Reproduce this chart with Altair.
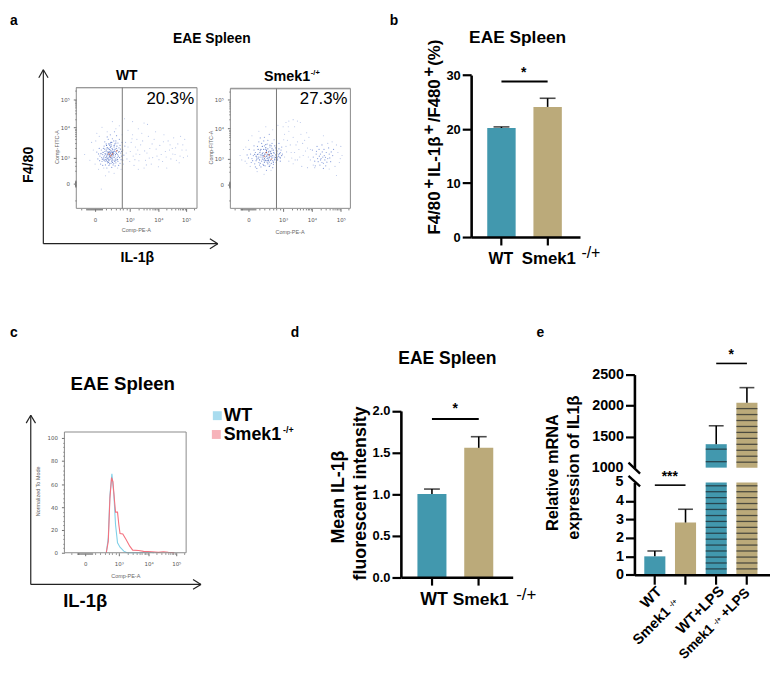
import altair as alt
import pandas as pd

W, H = 770, 659
FONT = "Liberation Sans"
TEAL, TAN = "#4298ae", "#bbaa7a"

# ---------- bar data ----------
cats2 = ["WT", "Smek1"]
b_vals = [20.2, 24.1]
b_errs = [20.4, 25.7]
d_vals = [1.0, 1.556]
d_errs = [1.06, 1.69]
cats4 = ["WT", "Smek", "WT+LPS", "Smek+LPS"]
e_vals = [1.0, 2.83, 1378, 2047]
e_errs = [1.29, 3.55, 1675, 2290]
e_low_stripes = [4.82, 4.5, 4.18, 3.86, 3.54, 3.21, 2.89, 2.57, 2.25, 1.93, 1.61, 1.29, 0.96, 0.64, 0.32]
e_up_stripes_wt = [1298, 1096]
e_up_stripes_smek = [1952, 1856, 1760, 1664, 1568, 1472, 1376, 1280, 1184, 1088]

# ---------- histogram data (c) ----------
wt_hist_x = [0.627, 0.686, 0.735, 0.794, 0.853, 0.902, 0.961, 1.04, 1.167, 1.277, 1.7, 2.0, 2.1, 2.2]
wt_hist_y = [0, 13, 50.7, 69, 50.7, 24.6, 8.7, 4.9, 1.4, 0, 0, 0.6, 0.2, 0]
ko_hist_x = [0.627, 0.686, 0.735, 0.784, 0.824, 0.873, 0.902, 0.961, 1.0, 1.04, 1.133, 1.244, 1.367, 1.467,
             1.667, 1.833, 2.12, 2.357, 2.536, 2.714, 2.93]
ko_hist_y = [0, 10, 47.8, 65.8, 62.3, 45, 35.7, 35.7, 24.6, 16.8, 16.5, 11.6, 5.8, 2.3, 2, 1.2, 0.9, 0.3, 0.9, 0.4, 0]

# ---------- flow cytometry events (a), read by eye ----------
wt_sparse = [(0.95,1.9),(1.1,2.2),(1.3,1.95),(1.5,2.15),(1.62,2.1),(1.05,1.5),(1.2,1.35),(1.35,1.1),(1.45,1.55),
 (1.55,0.9),(1.7,1.3),(1.85,1.6),(1.95,1.05),(2.05,1.4),(2.15,0.85),(2.25,1.2),(2.35,1.55),(2.45,0.95),(2.5,1.3),
 (2.6,1.1),(2.7,1.45),(2.75,0.8),(2.85,1.25),(2.95,1.6),(3.05,1.05),(1.0,0.85),(1.15,0.7),(1.3,0.55),(1.5,0.6),
 (1.75,0.75),(2.0,0.65),(2.3,0.6),(1.1,1.75),(1.25,1.6),(1.42,1.8),(1.65,1.7),(1.9,1.85),(2.2,1.75),(2.55,1.65),
 (2.8,1.7),(1.02,1.2),(1.12,1.05),(1.18,0.92),(1.28,1.25),(1.6,1.15),(1.8,1.0),(2.1,1.1),(2.4,1.25),(2.65,0.9),
 (2.9,1.0),(-0.3,1.1),(-0.15,0.9),(-0.1,1.5),(0.05,1.8),(0.2,2.0),(0.5,2.2),(0.7,2.05),(0.85,2.3),(0.3,0.3),
 (0.1,0.55),(0.55,0.4),(0.75,0.55),(0.18,-0.2),(-0.05,1.25),(0.0,0.75),(0.02,1.55),(0.12,1.7),(0.35,1.85),
 (0.6,1.95),(0.78,1.75),(0.88,1.5),(0.9,1.15),(0.92,0.95),(0.82,0.75),(0.4,0.45),(0.25,0.6),(0.65,0.6),(0.95,1.35),
 (1.08,1.62),(1.22,1.12),(1.38,1.42),(1.52,1.22),(1.68,0.98),(1.78,1.45),(1.92,1.28),(2.02,0.92),(2.18,1.52),
 (2.28,1.02),(2.42,1.42),(2.52,1.12),(2.62,1.32),(2.78,1.05),(2.88,1.42),(3.0,1.25),(1.32,0.88),(1.58,0.72)]
wt_core = [(0.46,1.1),(0.4,1.0),(0.52,1.2),(0.35,1.15),(0.58,1.05),(0.3,1.0),(0.44,1.25),(0.5,0.95),(0.38,1.3),
 (0.62,1.3),(0.28,1.2),(0.55,1.35),(0.33,0.9),(0.48,0.85),(0.65,1.1),(0.22,1.1),(0.42,1.4),(0.6,0.95),(0.25,0.95),
 (0.7,1.2),(0.36,0.8),(0.54,0.78),(0.72,1.4),(0.18,1.25),(0.45,1.5),(0.66,0.85),(0.2,0.85),(0.76,1.05),(0.32,1.45),
 (0.6,1.55),(0.14,1.05),(0.4,0.7),(0.58,0.68),(0.8,1.25),(0.26,1.38),(0.5,1.62),(0.7,1.6),(0.12,1.3),(0.3,0.72),
 (0.72,0.78),(0.08,0.95),(0.48,0.62),(0.38,1.6),(0.78,1.5),(0.05,1.18),(0.22,0.7),(0.62,1.72),(0.44,1.75),(0.8,0.9),
 (0.16,0.75),(0.34,0.6),(0.56,1.85),(0.68,0.7),(0.42,1.08),(0.47,1.18),(0.37,1.06),(0.53,1.1),(0.43,0.93),(0.56,1.25),
 (0.31,1.1),(0.49,1.3),(0.6,1.18),(0.41,1.2),(0.51,1.02),(0.36,0.97),(0.64,1.0),(0.27,1.06),(0.55,0.9),(0.46,0.78),
 (0.69,1.32),(0.24,1.3),(0.39,1.45),(0.57,1.45),(0.74,1.15),(0.19,1.0),(0.29,0.85),(0.52,0.72),(0.66,1.48),(0.34,1.28),
 (0.6,0.8),(0.1,1.12),(0.28,1.52),(0.47,1.42),(0.83,1.08),(0.13,0.88),(0.75,0.92),(0.35,1.68),(0.54,1.55),(0.86,1.38)]
wt_dense = [(0.44,1.14),(0.48,1.09),(0.39,1.16),(0.5,1.17),(0.42,1.03),(0.46,1.22),(0.36,1.11),(0.54,1.14),(0.41,1.27),
 (0.52,1.06),(0.33,1.05),(0.47,0.98),(0.57,1.2),(0.38,0.94),(0.59,1.1),(0.44,1.34),(0.32,1.22),(0.51,1.26),(0.62,1.14),
 (0.35,1.33),(0.4,0.88),(0.55,1.0),(0.29,1.13),(0.49,0.9),(0.64,1.24),(0.45,1.0),(0.37,1.19),(0.43,1.17),(0.5,1.12),
 (0.47,1.06),(0.41,1.1),(0.53,1.18),(0.34,0.99),(0.58,1.28),(0.25,1.02),(0.67,1.05),(0.46,1.37),(0.31,0.92),(0.6,0.9),
 (0.55,1.4),(0.23,1.17),(0.68,1.18),(0.39,0.82),(0.5,0.82),(0.28,1.28),(0.43,1.45),(0.63,1.38),(0.21,0.94),(0.71,1.0),
 (0.57,0.85),(0.35,0.85),(0.26,0.9),(0.73,1.28),(0.17,1.13),(0.48,1.5),(0.6,1.48),(0.33,1.4),(0.42,0.76),(0.65,0.92),(0.77,1.2)]
wt_hot = [(0.62,1.22),(0.5,1.12),(0.45,1.05),(0.4,1.12)]

ko_sparse = [(1.0,2.05),(1.1,2.2),(1.2,2.25),(1.35,2.3),(1.5,2.25),(1.6,2.2),(1.05,1.8),(1.2,1.9),(1.35,1.7),(1.5,1.55),
 (1.62,1.8),(1.75,1.6),(1.9,1.7),(1.1,1.4),(1.25,1.45),(1.4,1.2),(1.55,1.3),(1.7,1.1),(1.85,1.35),(1.95,0.95),
 (1.05,1.05),(1.2,0.9),(1.35,0.8),(1.5,0.95),(1.65,0.7),(1.85,0.65),(2.05,0.75),(2.4,1.75),(2.55,1.5),(2.7,1.55),
 (2.85,1.45),(3.0,1.4),(3.05,1.1),(2.95,0.85),(2.8,0.7),(2.6,0.6),(2.85,0.35),(2.1,0.65),(-0.25,1.1),(-0.15,1.3),
 (-0.1,0.9),(0.0,1.6),(0.1,1.75),(0.3,1.9),(0.5,2.05),(0.7,1.95),(0.85,2.1),(0.05,0.7),(0.25,0.5),(0.45,0.4),(0.65,0.55),
 (1.02,1.62),(1.15,1.6),(1.28,1.2),(1.45,1.45),(1.58,1.05),(1.78,1.25),(1.88,1.05),(1.12,1.22),(1.3,1.02),(1.42,0.95),
 (1.68,1.5),(1.82,1.85),(1.18,2.05),(1.4,2.05),(1.95,1.3),(-0.2,0.95),(-0.05,0.82),(-0.08,1.38),(2.9,1.2),(2.98,1.0)]
ko_core = [(0.54,1.15),(0.48,1.05),(0.6,1.25),(0.42,1.2),(0.66,1.08),(0.36,1.05),(0.5,1.3),(0.58,0.98),(0.44,0.95),
 (0.72,1.2),(0.3,1.15),(0.62,1.38),(0.38,0.9),(0.54,0.85),(0.78,1.12),(0.24,1.05),(0.46,1.42),(0.7,0.92),(0.2,1.2),
 (0.84,1.25),(0.3,0.85),(0.48,0.72),(0.68,1.5),(0.14,1.1),(0.38,1.5),(0.62,0.75),(0.12,0.92),(0.9,1.05),(0.26,1.4),
 (0.56,1.6),(0.06,1.15),(0.36,0.68),(0.8,0.85),(0.94,1.28),(0.18,0.8),(0.46,1.7),(0.74,1.62),(0.0,1.02),(0.24,0.62),
 (0.52,0.55),(0.88,1.5),(0.16,1.42),(0.7,0.65),(0.34,1.68),(0.6,1.8),(0.02,1.3),(-0.04,1.12),(0.98,1.15),(0.92,0.9),
 (0.28,1.0),(0.4,1.1),(0.52,1.22),(0.64,1.18),(0.74,1.05),(0.34,1.26),(0.56,1.05),(0.46,1.15),(0.68,1.28),(0.58,1.14),
 (0.5,0.92),(0.78,1.35),(0.22,0.92),(0.42,0.78),(0.6,0.86),(0.86,1.14),(0.32,0.75),(0.1,1.0),(0.72,0.78),(0.92,1.2),
 (0.96,1.38),(0.84,1.02),(0.16,1.28),(0.44,1.58),(0.66,1.42),(0.3,1.55),(0.54,1.48),(0.08,0.85),(0.2,0.68),(0.76,0.95),
 (2.38,1.05),(2.3,1.15),(2.45,0.95),(2.2,1.0),(2.5,1.2),(2.15,1.15),(2.35,0.85),(2.55,1.0),(2.25,1.3),(2.42,1.3),
 (2.1,0.9),(2.6,1.15),(2.28,0.75),(2.48,0.72),(2.65,0.88),(2.05,1.05),(2.18,1.4),(2.35,1.45),(2.58,1.35),(2.72,1.1),
 (2.02,1.28),(2.12,0.72),(2.75,1.3),(2.4,0.62),(2.32,1.0),(2.43,1.1),(2.26,1.08),(2.36,1.22),(2.47,1.04),(2.22,0.88),
 (2.52,0.86),(2.62,1.02),(2.3,0.95),(2.4,0.82),(2.16,1.24),(2.67,1.22)]
ko_dense = [(0.56,1.12),(0.52,1.08),(0.6,1.14),(0.48,1.15),(0.62,1.08),(0.44,1.1),(0.66,1.16),(0.5,1.2),(0.58,1.22),
 (0.54,1.0),(0.7,1.1),(0.4,1.16),(0.64,1.24),(0.46,1.0),(0.74,1.18),(0.36,1.12),(0.6,1.03),(0.52,1.27),(0.68,1.02),
 (0.42,1.05),(0.78,1.04),(0.33,1.2),(0.56,1.32),(0.48,0.94),(0.72,1.28),(0.3,1.05),(0.64,0.94),(0.82,1.18),(0.4,0.98),
 (0.5,1.36),(0.76,0.98),(0.26,1.14),(0.58,0.92),(0.86,1.08),(0.36,1.3),(0.68,1.34),(0.44,1.3),(0.22,1.08),(0.9,1.16),
 (0.54,0.92),(0.8,1.28),(0.32,0.95),(0.62,1.44),(0.46,0.86),(0.72,0.86),(0.18,1.14),(0.96,1.1),(0.4,1.4),(0.56,0.8),
 (0.28,1.3),(0.84,0.95),(0.5,1.46),(0.66,0.82),(0.34,0.82),(0.92,1.02),(0.24,0.98),(0.76,1.42),(0.44,0.74),(0.6,0.7),(0.88,1.32)]
ko_hot = [(0.6,1.12),(0.52,1.2),(0.66,0.98),(0.46,1.08)]

fx_ticks = [-0.4, -0.25, -0.22, -0.2, -0.17, -0.14, -0.11, -0.08, -0.05, -0.02, 0.02, 0.05, 0.08, 0.11, 0.14, 0.17,
            0.2, 0.3, 0.45, 0.6, 0.7, 0.8, 0.9, 1.3, 1.48, 1.6, 1.7, 1.78, 1.85, 1.9, 1.95, 2.3, 2.48, 2.6, 2.7,
            2.78, 2.85, 2.9, 2.95, 3.3]
fy_ticks = [-0.6, -0.1, -0.08, -0.06, -0.04, -0.02, 0.02, 0.04, 0.06, 0.08, 0.1, 0.5, 0.7, 0.85, 1.3, 1.48, 1.6,
            1.7, 1.78, 1.85, 1.9, 1.95, 2.3, 2.48, 2.6, 2.7, 2.78, 2.85, 2.9, 2.95, 3.3]
hist_y_minor = [4, 8, 12, 16, 24, 28, 32, 36, 44, 48, 52, 56, 64, 68, 72, 76, 84, 88, 92, 96]

layers = []
DUMMY = alt.Data(values=[{"t": 0}])


def X(p):
    return p - 8


def Y(p):
    return p - 8


def txt(s, x, y, size, weight="normal", angle=0, align="center", color="black"):
    layers.append(
        alt.Chart(alt.Data(values=[{"t": s}]))
        .mark_text(font=FONT, fontSize=size, fontWeight=weight, angle=angle, align=align,
                   baseline="middle", color=color)
        .encode(text="t:N", x=alt.value(X(x)), y=alt.value(Y(y)))
    )


def seg(x1, y1, x2, y2, w=1.0, color="black"):
    layers.append(
        alt.Chart(DUMMY)
        .mark_rule(strokeWidth=w, color=color)
        .encode(x=alt.value(X(x1)), x2=alt.value(X(x2)), y=alt.value(Y(y1)), y2=alt.value(Y(y2)))
    )


def box(x1, y1, x2, y2, **kw):
    layers.append(
        alt.Chart(DUMMY)
        .mark_rect(**kw)
        .encode(x=alt.value(X(x1)), x2=alt.value(X(x2)), y=alt.value(Y(y1)), y2=alt.value(Y(y2)))
    )


def yaxis(ax, values, size=13, tick=9, fmt=None, pad=2):
    kw = dict(format=fmt) if fmt else {}
    return alt.Axis(orient="left", offset=-X(ax), values=values, title=None, grid=False, domainColor="black",
                    domainWidth=2.6, tickColor="black", tickWidth=2.2, tickSize=tick, labelFont=FONT,
                    labelFontWeight="bold", labelFontSize=size, labelColor="black", labelPadding=pad,
                    labelOverlap=False, labelFlush=False, zindex=1, **kw)


def xaxis(ay, tick=8):
    return alt.Axis(orient="bottom", offset=-(H - Y(ay)), title=None, grid=False, labels=False, domainColor="black",
                    domainWidth=2.6, tickColor="black", tickWidth=2.2, tickSize=tick, zindex=1)


def rng(lo_px, hi_px):
    return [Y(lo_px), Y(hi_px)]


def band(cats, r0, r1, pi, po, al):
    return alt.Scale(type="band", domain=cats, range=[X(r0), X(r1)], paddingInner=pi, paddingOuter=po, align=al)


def bars(cats, vals, base, cols, xs, ys, ax=None, ay=None):
    df = pd.DataFrame({"c": cats, "v": vals, "b": base, "col": cols})
    layers.append(
        alt.Chart(df).mark_bar().encode(
            x=alt.X("c:N", scale=xs, axis=ax, sort=None),
            y=alt.Y("v:Q", scale=ys, axis=ay),
            y2=alt.Y2("b:Q"),
            color=alt.Color("col:N", scale=None),
        )
    )


def errs(cats, vals, tops, xs, ys, cap):
    df = pd.DataFrame({"c": cats, "v": vals, "e": tops})
    layers.append(
        alt.Chart(df).mark_rule(color="black", strokeWidth=1.6).encode(
            x=alt.X("c:N", scale=xs, axis=None, sort=None), y=alt.Y("v:Q", scale=ys, axis=None), y2=alt.Y2("e:Q"))
    )
    layers.append(
        alt.Chart(df).mark_tick(color="black", thickness=1.6, size=cap, orient="horizontal").encode(
            x=alt.X("c:N", scale=xs, axis=None, sort=None), y=alt.Y("e:Q", scale=ys, axis=None))
    )


def sig(a, b, v, xs, ys, w=2.0):
    df = pd.DataFrame({"a": [a], "b": [b], "v": [v]})
    layers.append(
        alt.Chart(df).mark_rule(color="black", strokeWidth=w).encode(
            x=alt.X("a:N", scale=xs, axis=None), x2=alt.X2("b:N"), y=alt.Y("v:Q", scale=ys, axis=None))
    )


def stripes(cat, vals, xs, ys, size):
    df = pd.DataFrame({"c": [cat] * len(vals), "v": vals})
    layers.append(
        alt.Chart(df).mark_tick(color="#1c2226", thickness=1.3, size=size, orient="horizontal").encode(
            x=alt.X("c:N", scale=xs, axis=None, sort=None), y=alt.Y("v:Q", scale=ys, axis=None))
    )


def arrows(x0, y0, y_top, x_right):
    seg(x0, y_top, x0, y0, 1.2, "#222")
    seg(x0, y0, x_right, y0, 1.2, "#222")
    seg(x0 - 4.6, y_top + 8, x0, y_top, 1.2, "#222")
    seg(x0 + 4.8, y_top + 8, x0, y_top, 1.2, "#222")
    seg(x_right - 8, y0 - 5, x_right, y0, 1.2, "#222")
    seg(x_right - 8, y0 + 5, x_right, y0, 1.2, "#222")


LOG_EXPR = "datum.value==0?'0':'10'+['³','⁴','⁵'][datum.value-1]"


def small_axes(xs, ys, left, bottom, yvals, ylabel_expr=None, y_minor=fy_ticks):
    """Major and minor ticks of the cytometry frames."""
    ykw = dict(labelExpr=ylabel_expr) if ylabel_expr else {}
    xmaj = alt.Axis(orient="bottom", offset=-(H - Y(bottom)), values=[0, 1, 2, 3], title=None, grid=False, domain=False,
                    tickColor="#333", tickWidth=0.7, tickSize=3, labelFont="DejaVu Sans", labelFontSize=5.5,
                    labelColor="#555", labelPadding=6, labelExpr=LOG_EXPR)
    ymaj = alt.Axis(orient="left", offset=-X(left), values=yvals, title=None, grid=False, domain=False,
                    tickColor="#333", tickWidth=0.7, tickSize=3, labelFont="DejaVu Sans", labelFontSize=5.5,
                    labelColor="#555", labelPadding=4, **ykw)
    xmin = alt.Axis(orient="bottom", offset=-(H - Y(bottom)), values=fx_ticks, title=None, grid=False, domain=False,
                    tickColor="#333", tickWidth=0.6, tickSize=1.6, labels=False)
    ymin = alt.Axis(orient="left", offset=-X(left), values=y_minor, title=None, grid=False, domain=False,
                    tickColor="#333", tickWidth=0.6, tickSize=1.6, labels=False)
    for ax, ay in ((xmaj, ymaj), (xmin, ymin)):
        layers.append(
            alt.Chart(alt.Data(values=[{"x": 0, "y": 0}])).mark_point(opacity=0).encode(
                x=alt.X("x:Q", scale=xs, axis=ax), y=alt.Y("y:Q", scale=ys, axis=ay))
        )


def flow_panel(sparse, core, dense, hot, xpx, ypx, gate_px):
    dx = [-0.54, 0, 1, 2, 3, 3.39]
    dy = [-0.9, 0, 1, 2, 3, 3.42]
    xs = alt.Scale(domain=dx, range=[X(p) for p in xpx], nice=False, zero=False)
    ys = alt.Scale(domain=dy, range=[Y(p) for p in ypx], nice=False, zero=False)
    small_axes(xs, ys, xpx[0], ypx[0], [0, 1, 2, 3], LOG_EXPR)
    for pts, colr, sz, op in ((sparse, "#a5b6e4", 1.3, 0.8), (core, "#6f8ad4", 1.5, 0.8),
                              (dense, "#3f5fb8", 1.5, 0.8), (hot, "#d9603a", 2.0, 0.9)):
        df = pd.DataFrame(pts, columns=["x", "y"])
        layers.append(
            alt.Chart(df).mark_circle(size=sz, color=colr, opacity=op).encode(
                x=alt.X("x:Q", scale=xs, axis=None), y=alt.Y("y:Q", scale=ys, axis=None))
        )
    box(xpx[0], ypx[-1], xpx[-1], ypx[0], fillOpacity=0, stroke="#8a8a8a", strokeWidth=1)
    seg(xpx[0], ypx[-1], xpx[-1], ypx[-1], 1.5, "#999")
    seg(gate_px, ypx[-1], gate_px, ypx[0], 1.0, "#777")


# ---------- panel letters ----------
txt("a", 14, 18, 14, "bold")
txt("b", 398, 18, 14, "bold")
txt("c", 14, 333, 14, "bold")
txt("d", 298, 333, 14, "bold")
txt("e", 546, 333, 14, "bold")

# ---------- panel a ----------
txt("EAE Spleen", 214, 36, 14, "bold")
arrows(43.7, 242.7, 67, 220)
flow_panel(wt_sparse, wt_core, wt_dense, wt_hot, [77, 96, 131, 160, 188, 199], [207, 182, 155.7, 125, 96.7, 85], 123.5)
flow_panel(ko_sparse, ko_core, ko_dense, ko_hot, [232.7, 251, 286, 315, 344.3, 354], [207, 183, 156.7, 126, 97.3, 86], 279.3)
txt("WT", 128, 73, 14, "bold")
txt("Smek1", 290, 74.7, 14.5, "bold")
txt("-/+", 318.5, 70, 7.5, "bold")
txt("20.3%", 172, 97, 17)
txt("27.3%", 327, 97, 17)
txt("Comp-FITC-A", 57.3, 145, 5.5, angle=270, color="#666")
txt("Comp-FITC-A", 212.7, 145.5, 5.5, angle=270, color="#666")
txt("Comp-PE-A", 137.7, 229.3, 5.5, color="#666")
txt("Comp-PE-A", 293, 230.7, 5.5, color="#666")
txt("F4/80", 29.3, 163, 14.3, "bold", angle=270)
txt("IL-1β", 138.7, 257, 14.3, "bold")

# ---------- panel b ----------
txt("EAE Spleen", 523, 35, 17.5, "bold")
bx = band(cats2, 476, 586, 0.385, 0.371, 0.47)
by = alt.Scale(domain=[0, 30], range=rng(236, 72.3), nice=False, zero=False)
bars(cats2, b_vals, [0, 0], [TEAL, TAN], bx, by, xaxis(236), yaxis(476, [0, 10, 20, 30]))
errs(cats2, b_vals, b_errs, bx, by, 16)
sig("WT", "Smek1", 28.8, bx, by)
txt("*", 529, 70, 14, "bold")
for s, yy, xx in (("F4/80", 211.7, 440), ("+", 182.3, 433), ("IL-1β", 154.7, 440), ("+", 127.3, 433),
                  ("/F480", 98.3, 440), ("+", 69, 433), ("(%)", 49.7, 440)):
    txt(s, xx, yy, 17, "bold", angle=270)
txt("WT", 506, 258, 16, "bold")
txt("Smek1", 554.5, 258, 17, "bold")
txt("-/+", 597, 252, 16)

# ---------- panel c ----------
txt("EAE Spleen", 124, 385, 18.8, "bold")
arrows(31, 587, 416, 203)
cxpx = [65, 86, 120, 150, 178, 188]
cx = alt.Scale(domain=[-0.62, 0, 1, 2, 3, 3.36], range=[X(p) for p in cxpx], nice=False, zero=False)
cy = alt.Scale(domain=[0, 20, 40, 60, 80, 100, 105.4], range=[Y(p) for p in (555, 532, 509, 486, 462, 439, 433)],
               nice=False, zero=False)
small_axes(cx, cy, 65, 555, [0, 20, 40, 60, 80, 100], y_minor=hist_y_minor)
for xs_, ys_, colr in ((wt_hist_x, wt_hist_y, "#7fd0e8"), (ko_hist_x, ko_hist_y, "#f4727f")):
    df = pd.DataFrame({"x": xs_, "y": ys_})
    layers.append(
        alt.Chart(df).mark_line(color=colr, strokeWidth=1.1).encode(
            x=alt.X("x:Q", scale=cx, axis=None, sort=None), y=alt.Y("y:Q", scale=cy, axis=None))
    )
box(65, 433, 188, 555, fillOpacity=0, stroke="#8a8a8a", strokeWidth=1)
txt("Normalized To Mode", 38, 493, 5.5, angle=270, color="#666")
txt("Comp-PE-A", 127, 579, 5.5, color="#666")
txt("IL-1β", 86, 604, 18.6, "bold")
box(215, 412, 224, 421, fill="#a9dcef")
box(214, 431, 223, 440, fill="#f7b3ba")
txt("WT", 226, 416, 18.6, "bold", align="left")
txt("Smek1", 226, 436, 18, "bold", align="left")
txt("-/+", 286, 431, 9, "bold", align="left")

# ---------- panel d ----------
txt("EAE Spleen", 452, 359, 17.7, "bold")
dx_ = band(cats2, 405, 518, 0.38, 0.3845, 0.46)
dy_ = alt.Scale(domain=[0, 2], range=rng(579.7, 411.7), nice=False, zero=False)
bars(cats2, d_vals, [0, 0], [TEAL, TAN], dx_, dy_, xaxis(579.7), yaxis(405, [0, 0.5, 1, 1.5, 2], fmt=".1f"))
errs(cats2, d_vals, d_errs, dx_, dy_, 16)
sig("WT", "Smek1", 1.904, dx_, dy_)
txt("*", 460, 410, 14, "bold")
txt("Mean IL-1β", 342.7, 498.7, 18, "bold", angle=270)
txt("fluorescent intensity", 365, 495, 18, "bold", angle=270)
txt("WT", 438.5, 603, 18, "bold")
txt("Smek1", 485.7, 603, 17.6, "bold")
txt("-/+", 531.7, 598, 17)

# ---------- panel e ----------
ex = band(cats4, 641, 777.7, 0.313, 0.36, 0.446)
ey_low = alt.Scale(domain=[0, 5], range=rng(577.3, 484), nice=False, zero=False, clamp=True)
ey_low_free = alt.Scale(domain=[0, 5], range=rng(577.3, 484), nice=False, zero=False)
ey_up = alt.Scale(domain=[1000, 2500], range=rng(469, 375), nice=False, zero=False)
col4 = [TEAL, TAN, TEAL, TAN]
bars(cats4, e_vals, [0, 0, 0, 0], col4, ex, ey_low, xaxis(577.3, 9.5), yaxis(641, [0, 1, 2, 3, 4], size=14.5, tick=9))
bars(cats4[2:], e_vals[2:], [1000, 1000], col4[2:], ex, ey_up, None,
     yaxis(641, [1500, 2000, 2500], size=14.5, tick=9, fmt="d"))
errs(cats4[:2], e_vals[:2], e_errs[:2], ex, ey_low_free, 15)
errs(cats4[2:], e_vals[2:], e_errs[2:], ex, ey_up, 15)
stripes("WT+LPS", e_low_stripes, ex, ey_low, 21.3)
stripes("Smek+LPS", e_low_stripes, ex, ey_low, 21.3)
stripes("WT+LPS", e_up_stripes_wt, ex, ey_up, 21.3)
stripes("Smek+LPS", e_up_stripes_smek, ex, ey_up, 21.3)
sig("WT", "Smek", 4.855, ex, ey_low_free, 1.6)
sig("WT+LPS", "Smek+LPS", 2680, ex, ey_up, 1.6)
txt("***", 676.7, 479, 14, "bold")
txt("*", 738.7, 355, 14, "bold")
seg(635, 464, 646.7, 475, 2.4)
seg(635, 477.3, 646.7, 488, 2.4)
txt("1000", 630, 469, 14.5, "bold", align="right")
txt("5", 630, 484, 14.5, "bold", align="right")
txt("Relative mRNA", 559, 474, 16.5, "bold", angle=270)
txt("expression of IL1β", 580, 469, 16.5, "bold", angle=270)
txt("WT", 657.7, 600, 15, "bold", angle=315)
txt("Smek1", 658.7, 629.3, 14.5, "bold", angle=315)
txt("-/+", 680, 606, 7, "bold", angle=315)
txt("WT+LPS", 707.3, 612.7, 15, "bold", angle=315)
txt("Smek1", 704, 645, 13.5, "bold", angle=315)
txt("-/+", 725, 624, 7, "bold", angle=315)
txt("+LPS", 743, 606, 14, "bold", angle=315)

chart = (
    alt.layer(*layers)
    .resolve_scale(x="independent", y="independent")
    .resolve_axis(x="independent", y="independent")
    .properties(width=W, height=H, padding=0, autosize=alt.AutoSizeParams(type="none"))
    .configure_view(stroke=None)
)
chart.save("out.html", embed_options={"renderer": "svg", "actions": False})
